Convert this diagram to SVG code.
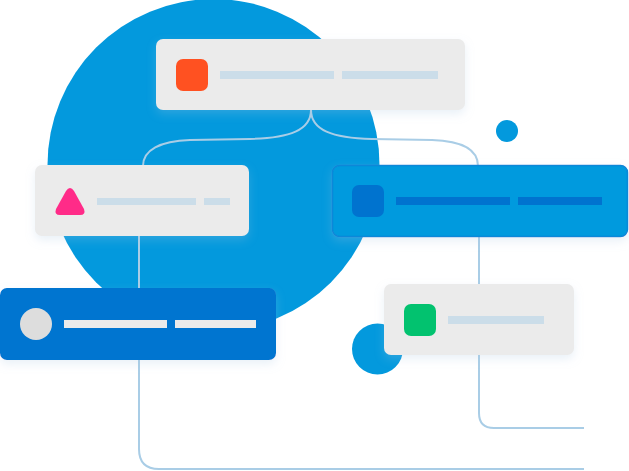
<svg xmlns="http://www.w3.org/2000/svg" width="629" height="471" viewBox="0 0 629 471">
<defs>
<style>
.card{fill:#ebebeb;filter:url(#sh)}
.bar{fill:#cbdde9}
.wbar{fill:#ebebeb}
.line{fill:none;stroke:#a9cde6;stroke-width:2}
</style>
<filter id="sh" x="-20%" y="-30%" width="140%" height="170%">
<feDropShadow dx="0" dy="4" stdDeviation="5" flood-color="#a9c6e0" flood-opacity="0.25"/>
</filter>
<linearGradient id="fadeA" gradientUnits="userSpaceOnUse" x1="479" y1="0" x2="584" y2="0">
<stop offset="0" stop-color="#a9cde6"/>
<stop offset="0.6" stop-color="#b9d5ea"/>
<stop offset="1" stop-color="#eef3f7"/>
</linearGradient>
<linearGradient id="fadeB" gradientUnits="userSpaceOnUse" x1="139" y1="0" x2="584" y2="0">
<stop offset="0" stop-color="#a9cde6"/>
<stop offset="0.8" stop-color="#b3d2e8"/>
<stop offset="1" stop-color="#eef3f7"/>
</linearGradient>
</defs>
<g id="background">
<circle cx="213.5" cy="165" r="166" fill="#0399dd"/>
<circle cx="507" cy="131" r="11" fill="#0399dd"/>
<circle cx="377.5" cy="349" r="25.5" fill="#0399dd"/>
</g>
<g id="connectors">
<path class="line" d="M311,110 C311,130 290,138 250,139 L190,140 C160,141 143,150 143,166"/>
<path class="line" d="M311,110 C311,130 332,138 372,139 L432,140 C462,141 478,150 478,166"/>
<path class="line" d="M139,236 L139,449 Q139,469 159,469 L584,469" stroke="url(#fadeB)"/>
<path class="line" d="M479,236 L479,413 Q479,428 494,428 L584,428" stroke="url(#fadeA)"/>
</g>
<g id="node-top">
<rect class="card" x="156" y="39" width="309" height="71" rx="7"/>
<rect x="176" y="59" width="32" height="32" rx="7" fill="#ff5121"/>
<rect class="bar" x="220" y="71" width="114" height="8"/>
<rect class="bar" x="342" y="71" width="96" height="8"/>
</g>
<g id="node-left">
<rect class="card" x="35" y="165" width="214" height="71" rx="7"/>
<path d="M70,188 Q72,188 74,191 L84,209 Q86,215 80,215 L60,215 Q54,215 56,209 L66,191 Q68,188 70,188 Z" fill="#ff2b88"/>
<rect class="bar" x="97" y="198" width="99" height="7"/>
<rect class="bar" x="204" y="198" width="26" height="7"/>
</g>
<g id="node-right">
<rect x="332.5" y="165.5" width="295" height="71" rx="7" fill="#049ade" stroke="#0a87d8" stroke-width="1.5" filter="url(#sh)"/>
<rect x="352" y="185" width="32" height="32" rx="7" fill="#0073cf"/>
<rect x="396" y="197" width="114" height="8" fill="#0073cf"/>
<rect x="518" y="197" width="84" height="8" fill="#0073cf"/>
</g>
<g id="node-bottom-left">
<rect x="0" y="288" width="276" height="72" rx="7" fill="#0074d0" filter="url(#sh)"/>
<circle cx="36" cy="324" r="16" fill="#dddddd"/>
<rect class="wbar" x="64" y="320" width="103" height="8"/>
<rect class="wbar" x="175" y="320" width="81" height="8"/>
</g>
<g id="node-bottom-right">
<rect class="card" x="384" y="284" width="190" height="71" rx="7"/>
<rect x="404" y="304" width="32" height="32" rx="7" fill="#02c26f"/>
<rect class="bar" x="448" y="316" width="96" height="8"/>
</g>
</svg>
